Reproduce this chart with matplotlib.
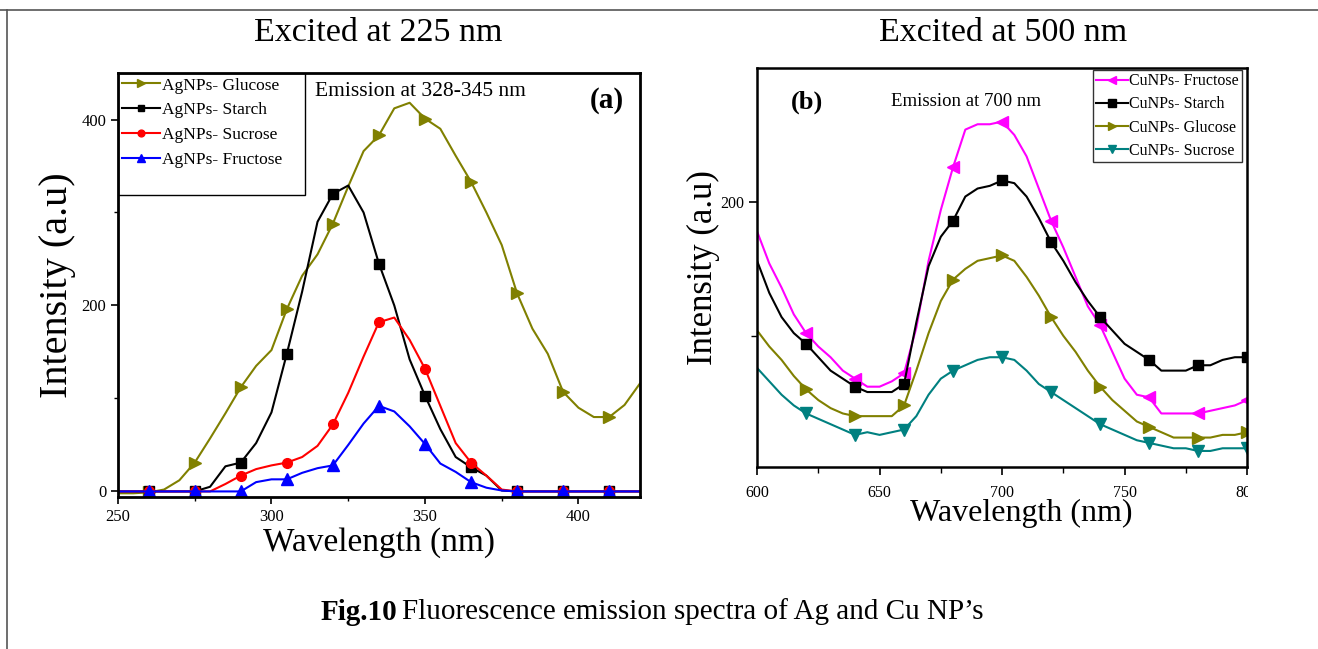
import matplotlib
matplotlib.use('Agg')
import matplotlib.pyplot as plt
from matplotlib.lines import Line2D
from matplotlib.patches import Rectangle
from matplotlib.transforms import Bbox, TransformedBbox
import numpy as np

plt.rcParams['font.family'] = ['Liberation Serif', 'DejaVu Serif']

# ---- panel (a): Ag nanoparticles, excited at 225 nm ----
wl_ag = np.arange(250, 421, 5)
ag_glucose = [-2, -2, -1, 2, 12, 31, 57, 84, 112, 135, 152, 196, 232, 255, 288, 328, 366, 383,
              412, 418, 401, 390, 361, 333, 300, 265, 213, 175, 148, 107, 90, 80, 80, 93, 116]
ag_starch = [0, 0, 0, 0, 0, 0, 5, 27, 31, 52, 85, 148, 215, 290, 320, 329, 300, 245,
             200, 142, 103, 67, 37, 26, 17, 1, 0, 0, 0, 0, 0, 0, 0, 0, 0]
ag_sucrose = [0, 0, 0, 0, 0, 0, 0, 8, 17, 24, 28, 31, 37, 49, 72, 106, 145, 182,
              187, 163, 132, 92, 52, 31, 17, 2, 0, 0, 0, 0, 0, 0, 0, 0, 0]
ag_fructose = [0, 0, 0, 0, 0, 0, 0, 0, 0, 10, 13, 13, 20, 25, 28, 50, 73, 92,
               86, 70, 51, 30, 21, 10, 4, 1, 0, 0, 0, 0, 0, 0, 0, 0, 0]

# ---- panel (b): Cu nanoparticles, excited at 500 nm ----
wl_cu = np.arange(600, 801, 5)
cu_fructose = [189, 177, 168, 158, 151, 146, 142, 137, 134, 131, 131, 133, 136, 153, 178, 197, 213,
               227, 229, 229, 230, 225, 217, 205, 193, 183, 172, 161, 154, 144, 134, 128, 127,
               121, 121, 121, 121, 122, 123, 124, 126]
cu_starch = [178, 166, 157, 151, 147, 142, 137, 134, 131, 129, 129, 129, 132, 155, 176, 187, 193,
             202, 205, 206, 208, 207, 202, 194, 185, 178, 170, 163, 157, 152, 147, 144, 141,
             137, 137, 137, 139, 139, 141, 142, 142]
cu_glucose = [152, 146, 141, 135, 130, 126, 123, 121, 120, 120, 120, 120, 124, 137, 151, 163, 171,
              175, 178, 179, 180, 178, 172, 165, 157, 150, 144, 137, 131, 126, 122, 118, 116,
              114, 112, 112, 112, 112, 113, 113, 114]
cu_sucrose = [138, 133, 128, 124, 121, 119, 117, 115, 113, 114, 113, 114, 115, 120, 128, 134, 137,
              139, 141, 142, 142, 141, 137, 132, 129, 126, 123, 120, 117, 115, 113, 111, 110,
              109, 108, 108, 107, 107, 108, 108, 108]

fig = plt.figure(figsize=(13.18, 6.49), dpi=100)

# page frame lines (top and left)
fig.add_artist(Line2D([0, 1], [0.985, 0.985], color='#555555', lw=1.2))
fig.add_artist(Line2D([0.0055, 0.0055], [0, 0.985], color='#555555', lw=1.2))

# ---------------- panel (a) ----------------
ax1 = fig.add_axes([0.0895, 0.2342, 0.396, 0.6533])
ax1.plot(wl_ag, ag_glucose, color='#808000', marker='>', ms=8, lw=1.5, markevery=(2, 3),
         label='AgNPs- Glucose')
ax1.plot(wl_ag, ag_starch, color='black', marker='s', ms=7, lw=1.5, markevery=(2, 3),
         label='AgNPs- Starch')
ax1.plot(wl_ag, ag_sucrose, color='red', marker='o', ms=7, lw=1.5, markevery=(2, 3),
         label='AgNPs- Sucrose')
ax1.plot(wl_ag, ag_fructose, color='blue', marker='^', ms=8, lw=1.5, markevery=(2, 3),
         label='AgNPs- Fructose')
ax1.set_xlim(250, 420)
ax1.set_ylim(-6, 450)
ax1.set_xticks([250, 300, 350, 400])
ax1.set_xticks([275, 325, 375], minor=True)
ax1.set_yticks([0, 200, 400])
ax1.set_yticks([100, 300], minor=True)
ax1.tick_params(direction='out', length=5, width=1.2, labelsize=12)
ax1.tick_params(which='minor', direction='out', length=3, width=1.0)
for s in ax1.spines.values():
    s.set_linewidth(2)
ax1.set_xlabel('Wavelength (nm)', fontsize=24, labelpad=2)
ax1.set_ylabel('Intensity (a.u)', fontsize=29, labelpad=4)
# legend box with extra empty space below, as in the original
ax1.add_patch(Rectangle((0, 0.712), 0.358, 0.288, transform=ax1.transAxes, fill=False,
                        edgecolor='black', lw=1.0, zorder=5))
ax1.legend(loc='upper left', bbox_to_anchor=(0.0, 1.0), borderaxespad=0, fontsize=12.5,
           frameon=False, handlelength=2.2, handletextpad=0.1, labelspacing=0.5,
           borderpad=0.25, numpoints=1, markerscale=0.7)
ax1.text(0.58, 0.957, 'Emission at 328-345 nm', transform=ax1.transAxes, fontsize=15.5,
         ha='center', va='center')
ax1.text(0.97, 0.935, '(a)', transform=ax1.transAxes, fontsize=21, fontweight='bold',
         ha='right', va='center')
fig.text(0.2868, 0.949, 'Excited at 225 nm', fontsize=24.5, ha='center', va='center')

# ---------------- panel (b) ----------------
ax2 = fig.add_axes([0.5744, 0.2804, 0.3718, 0.6148])
ax2.plot(wl_cu, cu_fructose, color='#ff00ff', marker='<', ms=8, lw=1.5, markevery=(4, 4),
         label='CuNPs- Fructose')
ax2.plot(wl_cu, cu_starch, color='black', marker='s', ms=7, lw=1.5, markevery=(4, 4),
         label='CuNPs- Starch')
ax2.plot(wl_cu, cu_glucose, color='#808000', marker='>', ms=8, lw=1.5, markevery=(4, 4),
         label='CuNPs- Glucose')
ax2.plot(wl_cu, cu_sucrose, color='#008080', marker='v', ms=8, lw=1.5, markevery=(4, 4),
         label='CuNPs- Sucrose')
ax2.set_xlim(600, 800)
ax2.set_ylim(101, 250)
ax2.set_xticks([600, 650, 700, 750, 800])
ax2.set_xticks([625, 675, 725, 775], minor=True)
ax2.set_yticks([200])
ax2.set_yticks([150], minor=True)
ax2.tick_params(direction='out', length=6, width=1.2, labelsize=11.5)
ax2.tick_params(which='minor', direction='out', length=4, width=1.0)
ax2.tick_params(axis='x', pad=7)
for s in ax2.spines.values():
    s.set_linewidth(1.8)
ax2.set_xlabel('Wavelength (nm)', fontsize=23)
ax2.xaxis.set_label_coords(0.54, -0.08)
ax2.set_ylabel('Intensity (a.u)', fontsize=25, labelpad=0)
# the original picture is cropped just after the right spine
clip = TransformedBbox(Bbox([[0, 0], [1248 / 1318, 1]]), fig.transFigure)
for tick in ax2.xaxis.get_major_ticks():
    tick.label1.set_clip_on(True)
    tick.label1.set_clip_box(clip)
leg2 = ax2.legend(loc='upper right', bbox_to_anchor=(0.99, 0.995), borderaxespad=0,
                  fontsize=11.5, frameon=True, fancybox=False, edgecolor='black',
                  handlelength=2.0, handletextpad=0.1, labelspacing=0.45, borderpad=0.2,
                  numpoints=1, markerscale=0.8)
leg2.get_frame().set_linewidth(1.0)
ax2.text(0.427, 0.915, 'Emission at 700 nm', transform=ax2.transAxes, fontsize=13.5,
         ha='center', va='center')
ax2.text(0.07, 0.915, '(b)', transform=ax2.transAxes, fontsize=19, fontweight='bold',
         ha='left', va='center')
fig.text(0.761, 0.949, 'Excited at 500 nm', fontsize=24.5, ha='center', va='center')

# ---------------- caption ----------------
fig.text(0.3015, 0.057, 'Fig.10', fontsize=21, fontweight='bold', ha='right', va='center')
fig.text(0.3048, 0.057, 'Fluorescence emission spectra of Ag and Cu NP\u2019s', fontsize=21,
         ha='left', va='center')

fig.savefig('out.png', dpi=100)
